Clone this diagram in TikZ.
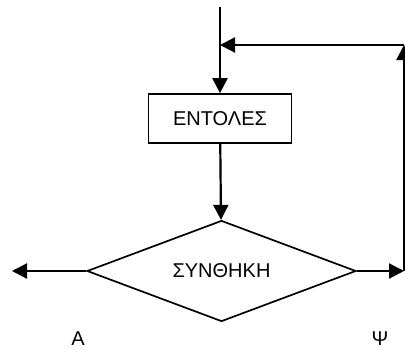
\documentclass[tikz,border=0pt]{standalone}
\usepackage{fontspec}
\setmainfont{Liberation Sans}
\usetikzlibrary{shapes.geometric,arrows.meta,positioning,calc}
\tikzset{
    block/.style={rectangle, draw, minimum width=143pt, minimum height=49pt, inner sep=0pt, font=\fontsize{20}{24}\selectfont, line width=1.7pt},
    decision/.style={diamond, draw, minimum width=269pt, minimum height=101pt, inner sep=0pt, aspect=2.66, font=\fontsize{20}{24}\selectfont, line width=1.7pt},
    line/.style={draw, -{Triangle[length=15pt,width=15pt]}, line width=2.2pt},
    plain/.style={draw, line width=2.2pt},
    answer/.style={font=\fontsize{20}{24}\selectfont}
}
\begin{document}
\begin{tikzpicture}[x=1pt, y=-1pt]
    \useasboundingbox (0,0) rectangle (405,349);
    \node [block] (cmds) at (220,118.5) {ΕΝΤΟΛΕΣ};
    \node [decision] (cond) at (221.5,271) {ΣΥΝΘΗΚΗ};
    \coordinate (top) at (220,7);
    \coordinate (join) at (220,45);
    \coordinate (corner) at (404,45);
    \coordinate (rightend) at (404,271);
    \coordinate (leftend) at (12,271);
    \node [answer] (yes) at (78,339) {Α};
    \node [answer] (no) at (380,339) {Ψ};

    \path [plain] (top) -- (join);
    \path [line] (join) -- (cmds);
    \path [line] (cmds) -- (cond);
    \path [line] (cond.west) -- (leftend);
    \path [line] (cond.east) -- (rightend);
    \path [line] (rightend) -- (corner);
    \path [line] (corner) -- (join);
\end{tikzpicture}
\end{document}
